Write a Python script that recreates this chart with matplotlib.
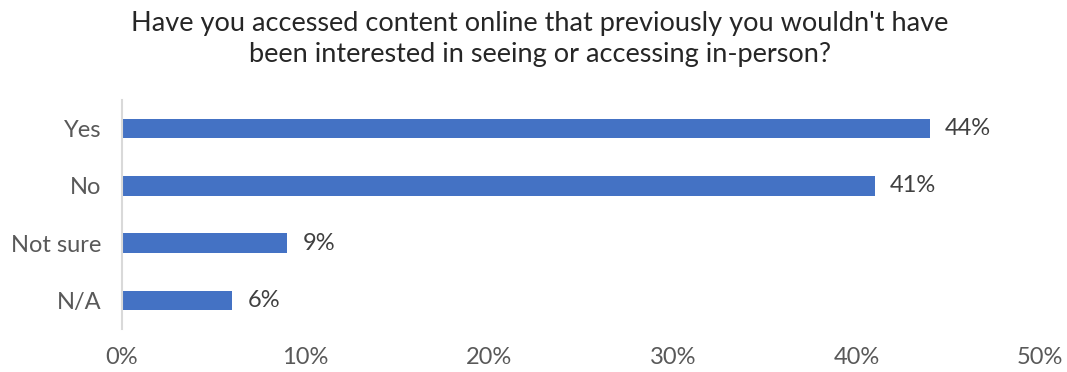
import matplotlib.pyplot as plt

categories = ["Yes", "No", "Not sure", "N/A"]
values = [44, 41, 9, 6]
x_ticks = [0, 10, 20, 30, 40, 50]

plt.rcParams['font.family'] = ['Lato', 'DejaVu Sans']

fig = plt.figure(figsize=(10.67, 3.72), dpi=100)
ax = fig.add_axes([0.1143, 0.1156, 0.8604, 0.6156])

pos = list(range(len(categories)))
bars = ax.barh(pos, values, height=0.34, color="#4472C4")

for b, v in zip(bars, values):
    ax.annotate(f"{v}%", (b.get_width(), b.get_y() + b.get_height() / 2),
                xytext=(11, 0), textcoords="offset points",
                va="center", ha="left", fontsize=17, color="#404040")

ax.set_ylim(len(categories) - 0.5, -0.5)
ax.set_yticks(pos)
ax.set_yticklabels(categories)
ax.set_xlim(0, 50)
ax.set_xticks(x_ticks)
ax.set_xticklabels([f"{t}%" for t in x_ticks])
ax.tick_params(axis="both", length=0, labelsize=17, labelcolor="#595959")
ax.tick_params(axis="y", pad=15)
ax.tick_params(axis="x", pad=13)

for s in ["top", "right", "bottom"]:
    ax.spines[s].set_visible(False)
ax.spines["left"].set_color("#D9D9D9")
ax.spines["left"].set_linewidth(1.5)

fig.text(0.506, 0.97, "Have you accessed content online that previously you wouldn't have\n"
         "been interested in seeing or accessing in-person?",
         ha="center", va="top", fontsize=19.5, color="#262626", linespacing=1.3)

fig.savefig("out.png", dpi=100)
